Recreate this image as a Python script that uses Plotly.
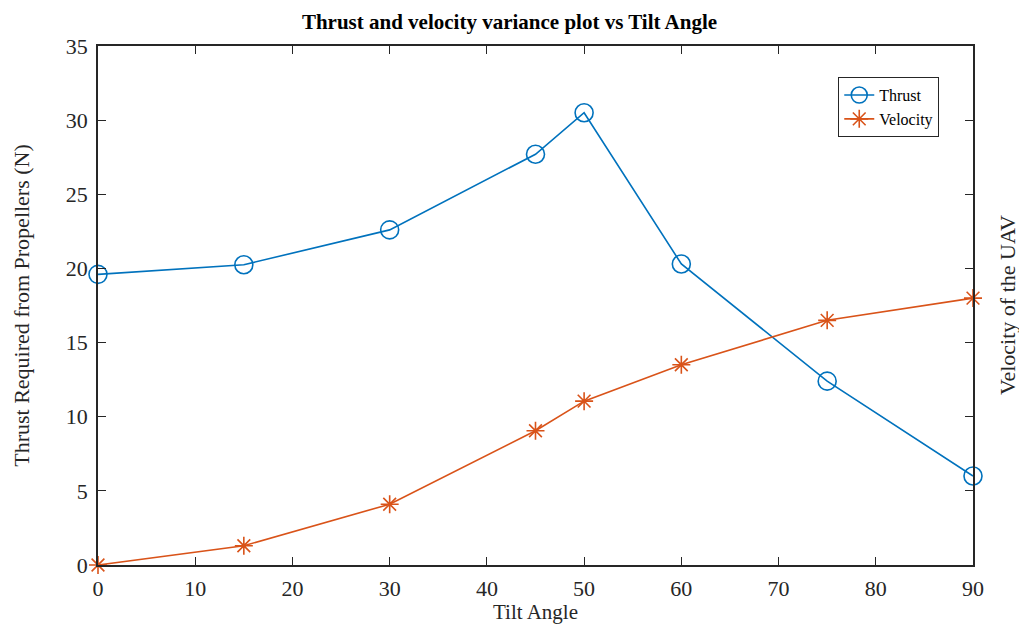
import plotly.graph_objects as go

# Tilt angle samples (degrees)
tilt_angle = [0, 15, 30, 45, 50, 60, 75, 90]
# Thrust required from propellers (N)
thrust = [19.6, 20.25, 22.6, 27.7, 30.5, 20.3, 12.4, 6.0]
# Velocity of the UAV
velocity = [0.0, 1.3, 4.1, 9.05, 11.05, 13.5, 16.5, 18.0]

x_ticks = [0, 10, 20, 30, 40, 50, 60, 70, 80, 90]
y_ticks = [0, 5, 10, 15, 20, 25, 30, 35]

BLUE = "#0072BD"
ORANGE = "#D95319"
AXIS = "#262626"
SERIF = "Liberation Serif, Times New Roman, serif"

fig = go.Figure()
fig.add_trace(go.Scatter(
    x=tilt_angle, y=thrust, name="Thrust", mode="lines+markers",
    line=dict(color=BLUE, width=1.6), cliponaxis=False,
    marker=dict(symbol="circle-open", size=18, color=BLUE, line=dict(width=1.6)),
))
fig.add_trace(go.Scatter(
    x=tilt_angle, y=velocity, name="Velocity", mode="lines+markers",
    line=dict(color=ORANGE, width=1.6), cliponaxis=False,
    marker=dict(symbol="asterisk-open", size=15, color=ORANGE, line=dict(width=1.6)),
))

axis_common = dict(
    showline=True, linecolor=AXIS, linewidth=1.5, mirror="ticks",
    ticks="inside", ticklen=8, tickwidth=1.2, tickcolor=AXIS,
    showgrid=False, zeroline=False, automargin=False,
    tickfont=dict(family=SERIF, size=22, color=AXIS),
)

fig.update_layout(
    width=1019, height=624,
    margin=dict(l=98, r=46, t=46, b=59),
    paper_bgcolor="white", plot_bgcolor="white",
    title=dict(
        text="<b>Thrust and velocity variance plot vs Tilt Angle</b>",
        x=0.5, xanchor="center", y=0.965, yanchor="middle",
        font=dict(family=SERIF, size=21, color="black"),
    ),
    xaxis=dict(
        range=[0, 90], tickvals=x_ticks, ticklabelstandoff=3, **axis_common,
        title=dict(text="Tilt Angle", standoff=2,
                   font=dict(family=SERIF, size=21, color=AXIS)),
    ),
    yaxis=dict(
        range=[0, 35], tickvals=y_ticks, ticklabelstandoff=4, **axis_common,
        title=dict(text="Thrust Required from Propellers (N)", standoff=30,
                   font=dict(family=SERIF, size=22, color=AXIS)),
    ),
    legend=dict(
        x=0.846, y=0.94, xanchor="left", yanchor="top",
        bgcolor="white", bordercolor=AXIS, borderwidth=1,
        font=dict(family=SERIF, size=16, color="black"),
        itemwidth=30, tracegroupgap=0,
    ),
    annotations=[dict(
        text="Velocity of the UAV", textangle=-90,
        xref="paper", yref="paper", x=1.0, y=0.5,
        xanchor="left", yanchor="middle", xshift=20, showarrow=False,
        font=dict(family=SERIF, size=22, color=AXIS),
    )],
)

fig.write_html("out.html")
